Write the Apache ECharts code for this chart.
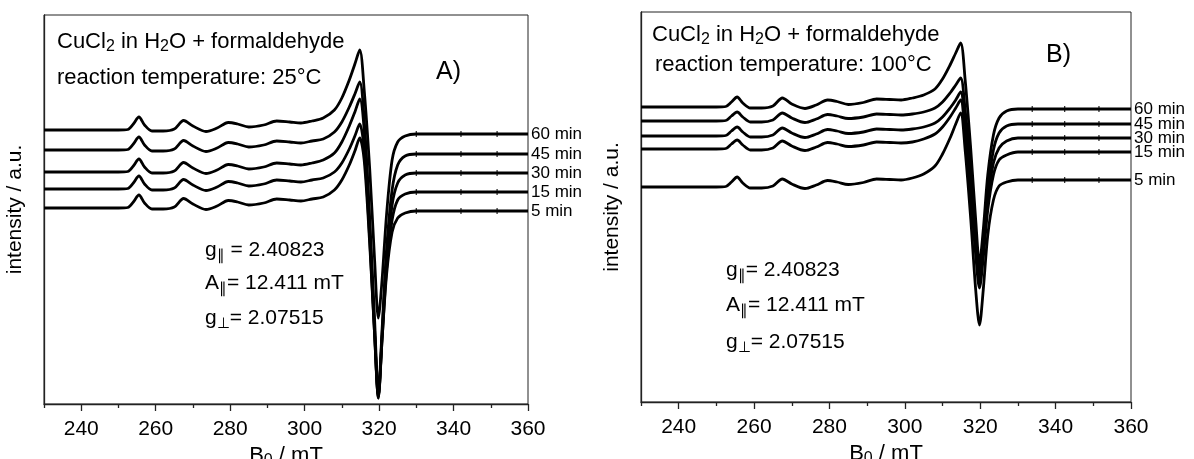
<!DOCTYPE html>
<html>
<head>
<meta charset="utf-8">
<script src="https://cdn.jsdelivr.net/npm/echarts@6/dist/echarts.min.js"></script>
<style>
html,body{margin:0;padding:0;background:#fff;}
#chart{width:1194px;height:459px;}
</style>
</head>
<body>
<div id="chart"></div>
<script>
// Magnetic field grid (mT), shared by all spectra
const B = [230,240,250,252.5,254,255.5,257,259,262,265,267.5,270,273.5,276.5,279.5,282,285,289,292.5,296,299,302,305,308,310,312,313.5,314.8,316,317.5,318.8,319.8,320.8,322,323.5,325,327,330,340,350,360];

// Panel A (25 °C) intensities, a.u. (offset traces)
const A60 = [274,274,274,274.5,280,287,279,273,273,275,283.5,278,272.5,276,281.5,280,277,279,283,282,281,283,286,294,306,324,340,354,314,234,144,86,124,189,244,262,268,270,270,270,270];
const A45 = [254,254,254,254.5,260,267,259,253,253,255,263.5,258,252.5,256,261.5,260,257,259,263,262,261,263,265,272,282,297,310,322,284,184,84,10,74,154,214,239,248,250,250,250,250];
const A30 = [232,232,232,232.5,238,245,237,231,231,233,241.5,236,230.5,234,239.5,238,235,237,241,240,239,241,244,251,262,278,292,305,274,174,74,6,69,144,199,221,229,231,231,231,231];
const A15 = [215,215,215,215.5,221,228,220,214,214,216,224.5,219,213.5,217,222.5,221,218,220,224,223,222,224,226,232,241,255,268,280,254,164,69,6,64,134,184,204,210,212,212,212,212];
const A5  = [196,196,196,196.5,202,209,201,195,195,197,205.5,200,194.5,198,203.5,202,199,201,205,204,203,205,207,214,224,239,253,266,244,159,69,8,64,129,172,186,191,193,193,193,193];

// Panel B (100 °C) intensities, a.u. (offset traces)
const B60 = [295,295,295,295.5,300,305,299,294,294,296,304,298,293.5,297,302,300.5,297.5,299.5,303,302.5,302,304,307,313,323,337,349,359,322,252,182,139,172,227,267,284,291,293,293,293,293];
const B45 = [281,281,281,281.5,286,290,285,280,280,282,289,284,279.5,283,287.5,286,283.5,285,288,287.5,287,288,290,294,300,309,317,324,292,232,167,130,162,212,252,269,276,278,278,278,278];
const B30 = [266,266,266,266.5,271,275,270,265,265,267,274,269,264.5,268,272.5,271,268.5,270,273,272.5,272,273,275,279,285,294,302,310,277,217,157,122,152,202,239,254,261,264,264,264,264];
const B15 = [253,253,253,253.5,258,262,257,252,252,254,261,256,251.5,255,259.5,258,255.5,257,260,259.5,259,260,263,268,275,285,294,302,267,207,147,114,144,192,227,242,247,250,250,250,250];
const B5  = [215,215,215,215.5,220,225,219,214,214,216,223,218,213.5,217,221.5,220,217.5,219.5,223,222.5,222,224,228,236,248,264,278,289,252,182,112,77,112,167,202,216,220,222,222,222,222];

// small scan-marker ticks seen on the flat high-field part of each trace
const markA_B = [330,342,351.7];
const markA_Y = [270,250,231,212,193];
const markB_B = [333.8,342.4,351.5];
const markB_Y = [293,278,264,250,222];

const timeLabels = ['60 min','45 min','30 min','15 min','5 min'];
const tickLabels = [240,260,280,300,320,340,360];
const minorTicks = [230,250,270,290,310,330,350];

const FF = '"Liberation Sans", Arial, sans-serif';
const INK = '#000';
const AX = '#222';

function zip(ys){ return B.map((b,i)=>[b, ys[i]]); }
function marks(xs,ys){ const out=[]; ys.forEach(y=>xs.forEach(x=>out.push([x,y]))); return out; }

function richBase(size){
  return {
    n:{fontSize:size,fontFamily:FF,fontWeight:'normal',color:INK,lineHeight:26},
    s:{fontSize:Math.round(size*0.72),fontFamily:FF,fontWeight:'normal',color:INK,verticalAlign:'bottom'}
  };
}

function xAxisPair(gi){
  return [
    {gridIndex:gi,type:'value',position:'bottom',min:230,max:360,
     axisLine:{show:true,lineStyle:{color:AX,width:1.3}},
     axisTick:{show:true,customValues:tickLabels,length:7,lineStyle:{color:AX,width:1.3}},
     axisLabel:{show:true,customValues:tickLabels,fontSize:21,fontFamily:FF,color:INK,margin:15},
     splitLine:{show:false},
     name:'{n|B}{s|0}{n| / mT}',nameLocation:'middle',nameGap:34,
     nameTextStyle:{rich:richBase(22)}},
    {gridIndex:gi,type:'value',position:'bottom',min:230,max:360,
     axisLine:{show:false},
     axisTick:{show:true,customValues:minorTicks,length:4,lineStyle:{color:AX,width:1.3}},
     axisLabel:{show:false},splitLine:{show:false}}
  ];
}

function yAxisFor(gi,max){
  return {gridIndex:gi,type:'value',min:0,max:max,
    axisLine:{show:true,lineStyle:{color:AX,width:1.3}},
    axisTick:{show:false},axisLabel:{show:false},splitLine:{show:false},
    name:'intensity / a.u.',nameLocation:'middle',nameGap:18,
    nameTextStyle:{fontSize:21,fontFamily:FF,color:INK}};
}

function lineSeries(name,ys,xi,yi){
  return {type:'line',name:name,xAxisIndex:xi,yAxisIndex:yi,data:zip(ys),
    showSymbol:false,smooth:0.3,
    lineStyle:{color:INK,width:2.8},
    endLabel:{show:true,formatter:'{a}',fontSize:17,fontFamily:FF,fontWeight:'normal',color:INK,distance:3},
    emphasis:{disabled:true},silent:true};
}

function markSeries(xs,ys,xi,yi){
  return {type:'scatter',xAxisIndex:xi,yAxisIndex:yi,data:marks(xs,ys),
    symbol:'rect',symbolSize:[1.3,6],itemStyle:{color:INK},silent:true,z:3};
}

function txt(text,left,top,size){
  return {text:text,left:left,top:top,padding:0,
    textStyle:{fontWeight:'normal',rich:richBase(size)}};
}

const chart = echarts.init(document.getElementById('chart'),null,{renderer:'canvas'});
chart.setOption({
  animation:false,
  backgroundColor:'#fff',
  title:[
    txt('{n|CuCl}{s|2}{n| in H}{s|2}{n|O + formaldehyde}',57,29,22),
    txt('{n|reaction temperature: 25°C}',57,65,22),
    txt('{n|A)}',436,59,25),
    txt('{n|g}{s|∥}{n| = 2.40823}',205,237,21),
    txt('{n|A}{s|∥}{n|= 12.411 mT}',205,270,21),
    txt('{n|g}{s|⊥}{n|= 2.07515}',205,305,21),
    txt('{n|CuCl}{s|2}{n| in H}{s|2}{n|O + formaldehyde}',652,22,22),
    txt('{n|reaction temperature: 100°C}',655,52,22),
    txt('{n|B)}',1046,42,25),
    txt('{n|g}{s|∥}{n|= 2.40823}',726,257,21),
    txt('{n|A}{s|∥}{n|= 12.411 mT}',726,292,21),
    txt('{n|g}{s|⊥}{n|= 2.07515}',726,329,21)
  ],
  grid:[
    {left:44,top:15,width:484,height:389,show:true,borderColor:AX,borderWidth:1,backgroundColor:'transparent',outerBoundsMode:'none',containLabel:false},
    {left:641,top:12,width:490,height:390,show:true,borderColor:AX,borderWidth:1,backgroundColor:'transparent',outerBoundsMode:'none',containLabel:false}
  ],
  xAxis:[].concat(xAxisPair(0),xAxisPair(1)),
  yAxis:[yAxisFor(0,389),yAxisFor(1,390)],
  series:[
    lineSeries(timeLabels[0],A60,0,0),
    lineSeries(timeLabels[1],A45,0,0),
    lineSeries(timeLabels[2],A30,0,0),
    lineSeries(timeLabels[3],A15,0,0),
    lineSeries(timeLabels[4],A5,0,0),
    lineSeries(timeLabels[0],B60,2,1),
    lineSeries(timeLabels[1],B45,2,1),
    lineSeries(timeLabels[2],B30,2,1),
    lineSeries(timeLabels[3],B15,2,1),
    lineSeries(timeLabels[4],B5,2,1),
    markSeries(markA_B,markA_Y,0,0),
    markSeries(markB_B,markB_Y,2,1)
  ]
});
</script>
</body>
</html>
